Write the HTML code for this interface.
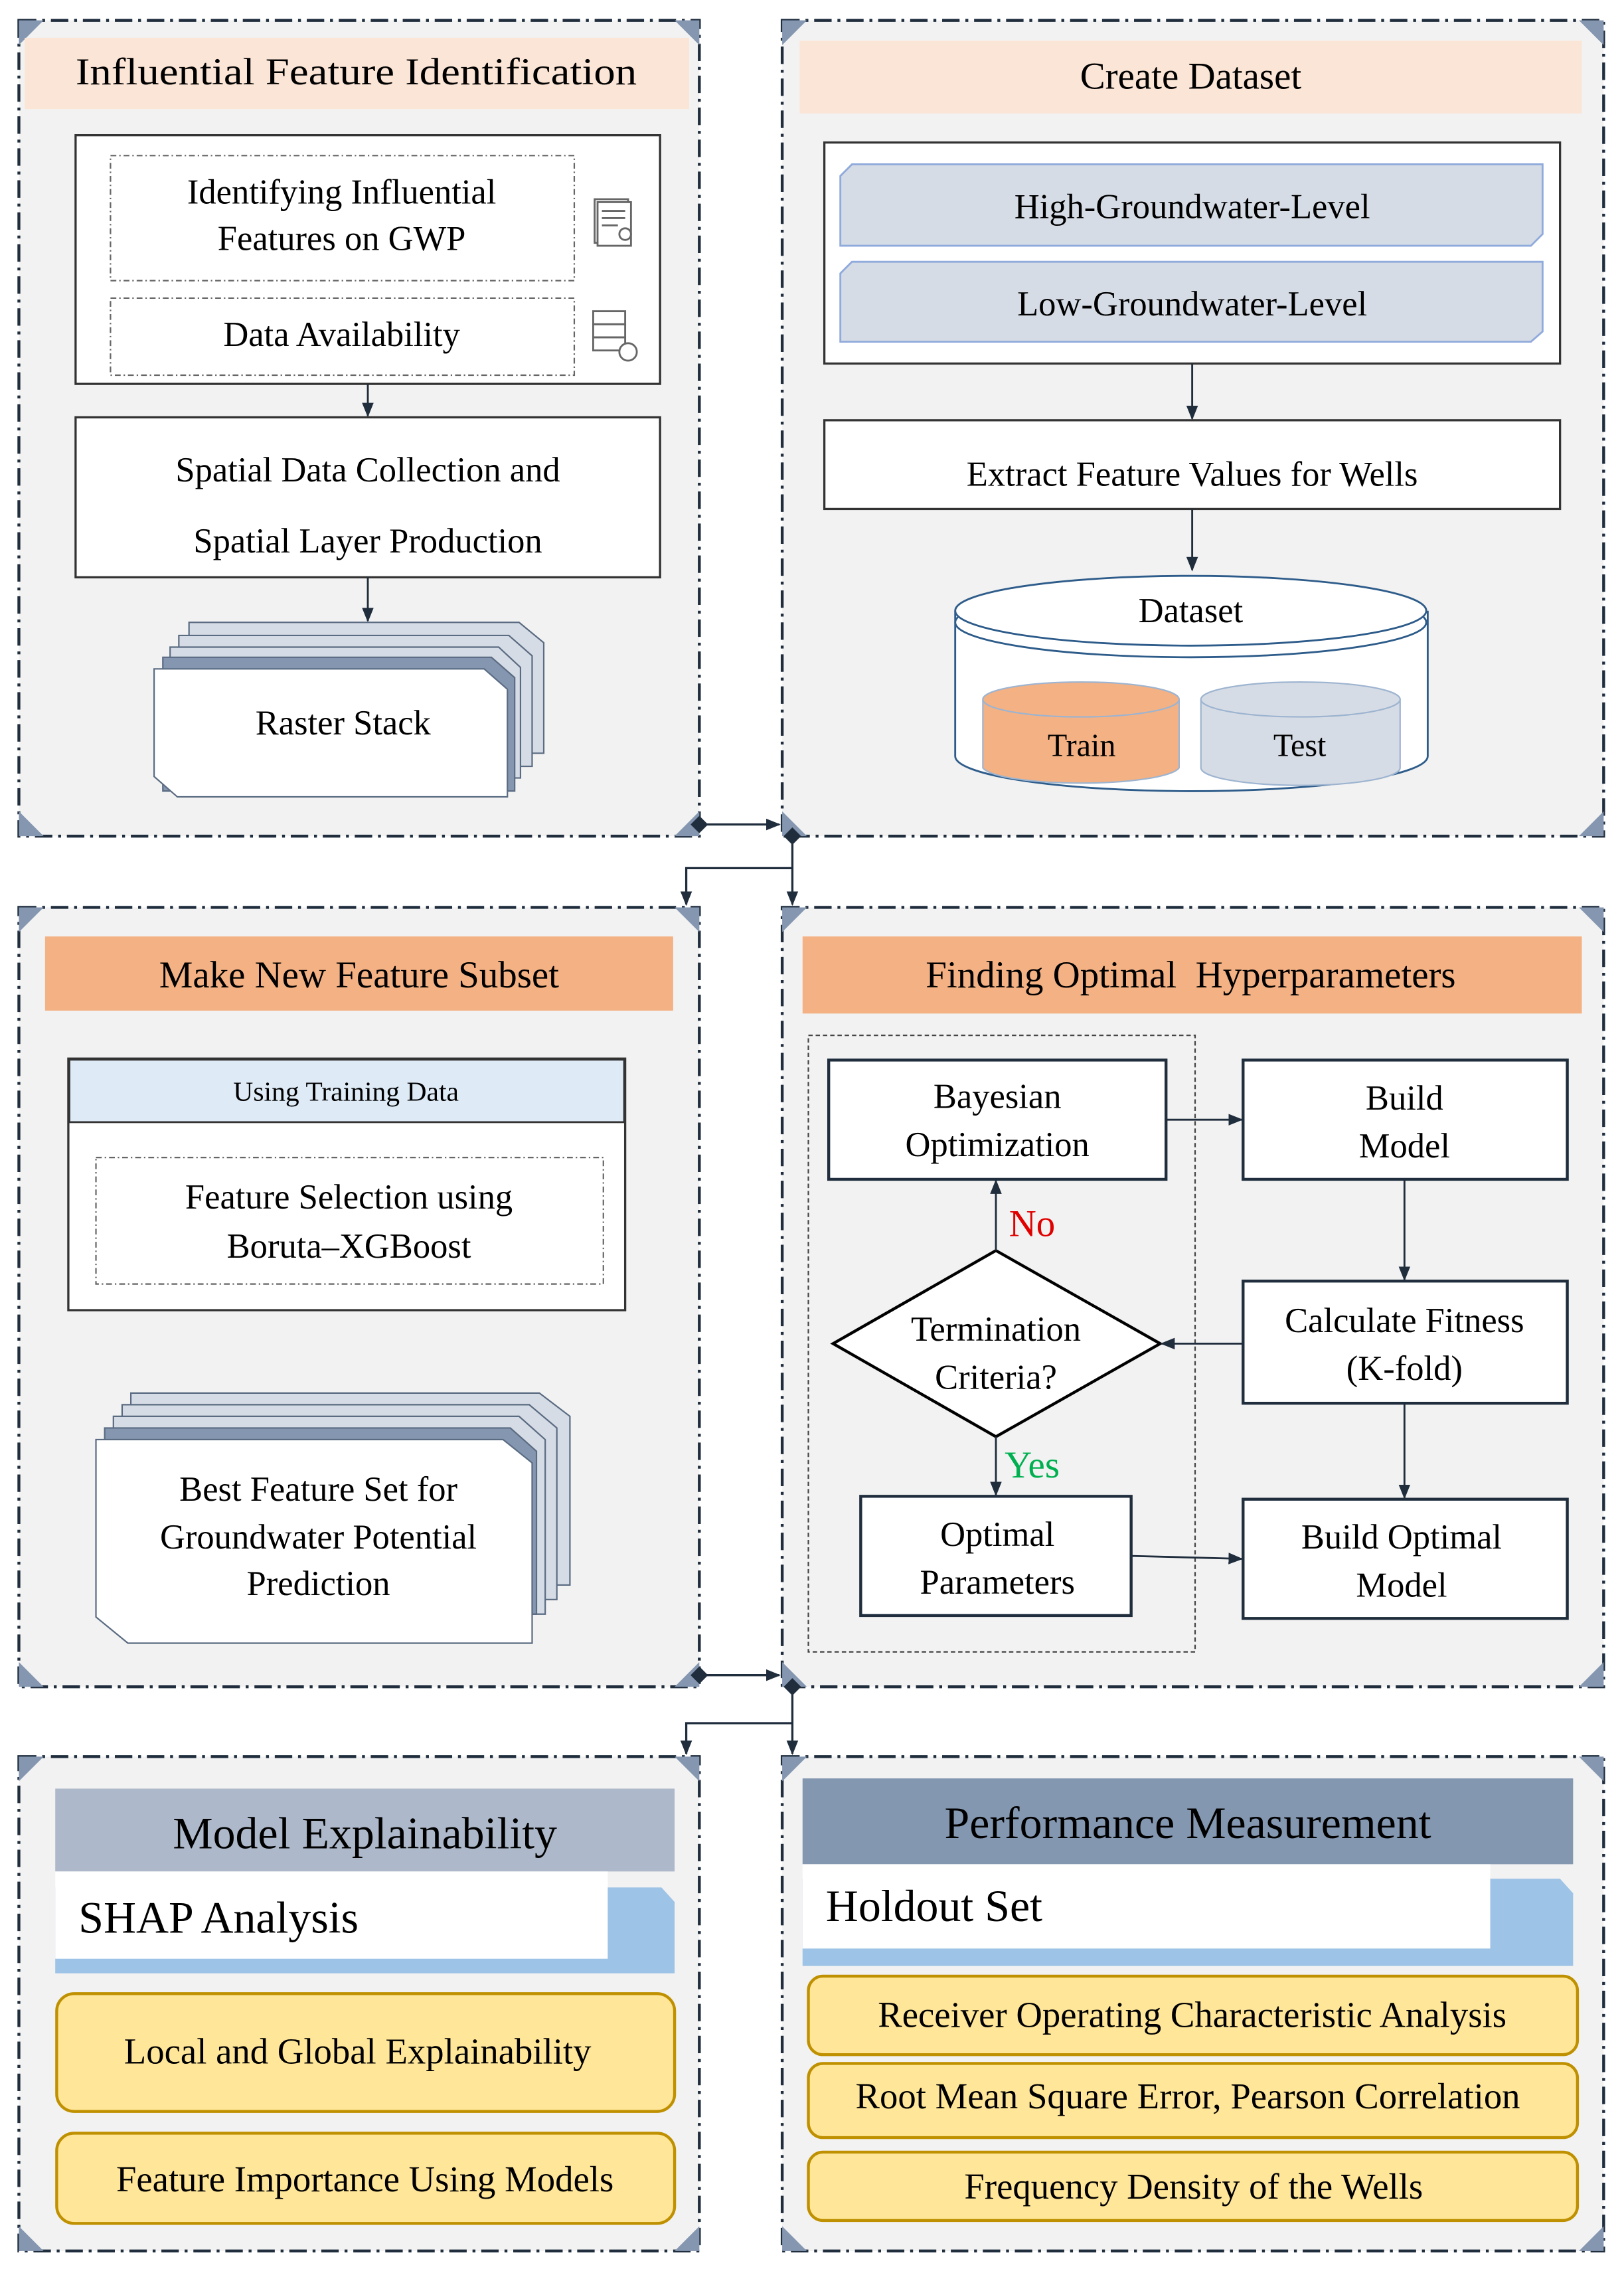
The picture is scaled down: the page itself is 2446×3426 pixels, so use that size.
<!DOCTYPE html>
<html><head><meta charset="utf-8"><style>html,body{margin:0;padding:0;background:#fff}svg{display:block}svg text{font-family:"Liberation Serif","Times New Roman","DejaVu Serif",serif}</style></head><body>
<svg xmlns="http://www.w3.org/2000/svg" width="2446" height="3426" viewBox="0 0 1117 1564.5" preserveAspectRatio="none">
<defs>
<marker id="ah" markerWidth="10" markerHeight="10" refX="9" refY="5" orient="auto" markerUnits="userSpaceOnUse"><path d="M0,1 L10,5 L0,9 z" fill="#1f2d3d"/></marker>
</defs>
<g id="panels" fill="#f2f2f2" stroke="#1f2d3d" stroke-width="2" stroke-dasharray="12,4,2,4">
<rect x="13" y="14" width="468" height="561"/>
<rect x="538" y="14" width="565" height="561"/>
<rect x="13" y="624" width="468" height="536"/>
<rect x="538" y="624" width="565" height="536"/>
<rect x="13" y="1208" width="468" height="340"/>
<rect x="538" y="1208" width="565" height="340"/>
</g>
<g fill="#8496b0">
<path d="M13,14h17l-17,17z M481,14h-17l17,17z M13,575h17l-17,-17z M481,575h-17l17,-17z"/>
<path d="M538,14h17l-17,17z M1103,14h-17l17,17z M538,575h17l-17,-17z M1103,575h-17l17,-17z"/>
<path d="M13,624h17l-17,17z M481,624h-17l17,17z M13,1160h17l-17,-17z M481,1160h-17l17,-17z"/>
<path d="M538,624h17l-17,17z M1103,624h-17l17,17z M538,1160h17l-17,-17z M1103,1160h-17l17,-17z"/>
<path d="M13,1208h17l-17,17z M481,1208h-17l17,17z M13,1548h17l-17,-17z M481,1548h-17l17,-17z"/>
<path d="M538,1208h17l-17,17z M1103,1208h-17l17,17z M538,1548h17l-17,-17z M1103,1548h-17l17,-17z"/>
</g>
<g stroke="#1f2d3d" stroke-width="1.5" fill="none">
<line x1="481" y1="567" x2="536" y2="567" marker-end="url(#ah)"/>
<path d="M545,575 V622" marker-end="url(#ah)"/>
<path d="M545,597 H472 V622" marker-end="url(#ah)"/>
<line x1="481" y1="1152" x2="536" y2="1152" marker-end="url(#ah)"/>
<path d="M545,1160 V1206" marker-end="url(#ah)"/>
<path d="M545,1185 H472 V1206" marker-end="url(#ah)"/>
</g>
<g fill="#1f2d3d">
<path d="M481,561 l6,6 l-6,6 l-6,-6z M545,569 l6,6 l-6,6 l-6,-6z M481,1146 l6,6 l-6,6 l-6,-6z M545,1154 l6,6 l-6,6 l-6,-6z"/>
</g>

<!-- Panel 1 -->
<rect x="17" y="26" width="457" height="49" fill="#fbe5d6"/>
<text x="245" y="58" font-size="26" text-anchor="middle" textLength="386" lengthAdjust="spacingAndGlyphs">Influential Feature Identification</text>
<rect x="52" y="93" width="402" height="171" fill="#fff" stroke="#333" stroke-width="1.5"/>
<g fill="none" stroke="#666" stroke-width="1" stroke-dasharray="4,2,1,2">
<rect x="76" y="107" width="319" height="86"/>
<rect x="76" y="205" width="319" height="53"/>
</g>
<text x="235" y="140" font-size="24" text-anchor="middle">Identifying Influential</text>
<text x="235" y="172" font-size="24" text-anchor="middle">Features on GWP</text>
<text x="235" y="238" font-size="24" text-anchor="middle">Data Availability</text>
<g fill="none" stroke="#666" stroke-width="1.3">
<rect x="409" y="137" width="23" height="30"/><rect x="411" y="139" width="23" height="30" fill="#fff"/>
<line x1="414" y1="145" x2="430" y2="145"/><line x1="414" y1="150" x2="430" y2="150"/><line x1="414" y1="155" x2="425" y2="155"/>
<circle cx="430" cy="161" r="4"/>
<rect x="408" y="214" width="22" height="9"/><rect x="408" y="223" width="22" height="9"/><rect x="408" y="232" width="22" height="9"/>
<circle cx="432" cy="242" r="6" fill="#fff"/>
</g>
<line x1="253" y1="264" x2="253" y2="286" stroke="#1f2d3d" stroke-width="1.3" marker-end="url(#ah)"/>
<rect x="52" y="287" width="402" height="110" fill="#fff" stroke="#333" stroke-width="1.5"/>
<text x="253" y="331" font-size="24" text-anchor="middle">Spatial Data Collection and</text>
<text x="253" y="380" font-size="24" text-anchor="middle">Spatial Layer Production</text>
<line x1="253" y1="397" x2="253" y2="427" stroke="#1f2d3d" stroke-width="1.3" marker-end="url(#ah)"/>
<g stroke="#5a6b82" stroke-width="1">
<path d="M130,428 H357 L374,442 V518 H130z" fill="#d6dce5"/>
<path d="M123,437 H350 L366,451 V527 H123z" fill="#d6dce5"/>
<path d="M117,445 H343 L358,459 V535 H117z" fill="#d6dce5"/>
<path d="M112,452 H338 L354,466 V544 H112z" fill="#8496b0"/>
<path d="M106,460 H333 L349,474 V548 H122 L106,534z" fill="#fff"/>
</g>
<text x="236" y="505" font-size="24" text-anchor="middle">Raster Stack</text>

<!-- Panel 2 -->
<rect x="550" y="28" width="538" height="50" fill="#fbe5d6"/>
<text x="819" y="61" font-size="26" text-anchor="middle">Create Dataset</text>
<rect x="567" y="98" width="506" height="152" fill="#fff" stroke="#333" stroke-width="1.5"/>
<g fill="#d6dce5" stroke="#8faadc" stroke-width="1.3">
<path d="M586,113 H1061 V161 L1053,169 H578 V121z"/>
<path d="M586,180 H1061 V228 L1053,235 H578 V188z"/>
</g>
<text x="820" y="150" font-size="24" text-anchor="middle">High-Groundwater-Level</text>
<text x="820" y="217" font-size="24" text-anchor="middle">Low-Groundwater-Level</text>
<line x1="820" y1="250" x2="820" y2="288" stroke="#1f2d3d" stroke-width="1.3" marker-end="url(#ah)"/>
<rect x="567" y="289" width="506" height="61" fill="#fff" stroke="#333" stroke-width="1.5"/>
<text x="820" y="334" font-size="24" text-anchor="middle">Extract Feature Values for Wells</text>
<line x1="820" y1="350" x2="820" y2="392" stroke="#1f2d3d" stroke-width="1.3" marker-end="url(#ah)"/>
<g stroke="#2e5c8a" stroke-width="1.3">
<path d="M657,420 V520 A162,24 0 0 0 982,520 V420" fill="#fff"/>
<ellipse cx="819" cy="428" rx="162" ry="24" fill="#fff"/>
<ellipse cx="819" cy="420" rx="162" ry="24" fill="#fff"/>
</g>
<text x="819" y="428" font-size="24" text-anchor="middle">Dataset</text>
<g stroke="#9db4d0" stroke-width="1">
<path d="M676,481 V528 A68,12 0 0 0 811,528 V481" fill="#f4b183"/>
<ellipse cx="743.5" cy="481" rx="67.5" ry="12" fill="#f4b183"/>
<path d="M826,481 V528 A68,12 0 0 0 963,528 V481" fill="#d6dce5"/>
<ellipse cx="894.5" cy="481" rx="68.5" ry="12" fill="#d6dce5"/>
</g>
<text x="744" y="520" font-size="22" text-anchor="middle">Train</text>
<text x="894" y="520" font-size="22" text-anchor="middle">Test</text>

<!-- Panel 3 -->
<rect x="31" y="644" width="432" height="51" fill="#f4b183"/>
<text x="247" y="679" font-size="26" text-anchor="middle">Make New Feature Subset</text>
<rect x="47" y="728" width="383" height="173" fill="#fff" stroke="#333" stroke-width="1.5"/>
<rect x="47.7" y="728.7" width="381.6" height="43" fill="#deebf7" stroke="#333" stroke-width="1.3"/>
<text x="238" y="757" font-size="19" text-anchor="middle">Using Training Data</text>
<rect x="66" y="796" width="349" height="87" fill="none" stroke="#666" stroke-width="1" stroke-dasharray="4,2,1,2"/>
<text x="240" y="831" font-size="24" text-anchor="middle">Feature Selection using</text>
<text x="240" y="865" font-size="24" text-anchor="middle">Boruta–XGBoost</text>
<g stroke="#5a6b82" stroke-width="1">
<path d="M90,958 H371 L392,974 V1090 H90z" fill="#d6dce5"/>
<path d="M84,966 H364 L383,982 V1100 H84z" fill="#d6dce5"/>
<path d="M78,974 H357 L375,990 V1110 H78z" fill="#d6dce5"/>
<path d="M72,982 H351 L369,998 V1110 H72z" fill="#8496b0"/>
<path d="M66,990 H346 L366,1006 V1130 H88 L66,1112z" fill="#fff"/>
</g>
<text x="219" y="1032" font-size="24" text-anchor="middle">Best Feature Set for</text>
<text x="219" y="1065" font-size="24" text-anchor="middle">Groundwater Potential</text>
<text x="219" y="1097" font-size="24" text-anchor="middle">Prediction</text>

<!-- Panel 4 -->
<rect x="552" y="644" width="536" height="53" fill="#f4b183"/>
<text x="819" y="679" font-size="26" text-anchor="middle" xml:space="preserve">Finding Optimal  Hyperparameters</text>
<rect x="556" y="712" width="266" height="424" fill="none" stroke="#444" stroke-width="1" stroke-dasharray="3,2"/>
<g fill="#fff" stroke="#1f2d3d" stroke-width="2">
<rect x="570" y="729" width="232" height="82"/>
<rect x="855" y="729" width="223" height="82"/>
<rect x="855" y="881" width="223" height="84"/>
<rect x="855" y="1031" width="223" height="82"/>
<rect x="592" y="1029" width="186" height="82"/>
<path d="M685,860 L798,924 L685,988 L573,924z" stroke="#000"/>
</g>
<g font-size="24" text-anchor="middle">
<text x="686" y="762">Bayesian</text><text x="686" y="795">Optimization</text>
<text x="966" y="763">Build</text><text x="966" y="796">Model</text>
<text x="966" y="916">Calculate Fitness</text><text x="966" y="949">(K-fold)</text>
<text x="964" y="1065">Build Optimal</text><text x="964" y="1098">Model</text>
<text x="686" y="1063">Optimal</text><text x="686" y="1096">Parameters</text>
<text x="685" y="922">Termination</text><text x="685" y="955">Criteria?</text>
</g>
<g stroke="#1f2d3d" stroke-width="1.3" fill="none">
<line x1="802" y1="770" x2="854" y2="770" marker-end="url(#ah)"/>
<line x1="966" y1="811" x2="966" y2="880" marker-end="url(#ah)"/>
<line x1="855" y1="924" x2="799" y2="924" marker-end="url(#ah)"/>
<line x1="966" y1="965" x2="966" y2="1030" marker-end="url(#ah)"/>
<line x1="778" y1="1070" x2="854" y2="1072" marker-end="url(#ah)"/>
<line x1="685" y1="860" x2="685" y2="812" marker-end="url(#ah)"/>
<line x1="685" y1="988" x2="685" y2="1028" marker-end="url(#ah)"/>
</g>
<text x="694" y="850" font-size="26" fill="#e00000">No</text>
<text x="691" y="1016" font-size="26" fill="#00b050">Yes</text>

<!-- Panel 5 -->
<rect x="38" y="1230" width="426" height="57" fill="#adb9ca"/>
<text x="251" y="1271" font-size="31" text-anchor="middle">Model Explainability</text>
<path d="M38,1298 H455 L464,1308 V1357 H38z" fill="#9dc3e6"/>
<rect x="38" y="1287" width="380" height="60" fill="#fff"/>
<text x="54" y="1329" font-size="31">SHAP Analysis</text>
<g fill="#ffe699" stroke="#bf9000" stroke-width="2">
<rect x="39" y="1371" width="425" height="81" rx="12"/>
<rect x="39" y="1467" width="425" height="62" rx="12"/>
</g>
<text x="246" y="1419" font-size="25" text-anchor="middle">Local and Global Explainability</text>
<text x="251" y="1507" font-size="25" text-anchor="middle">Feature Importance Using Models</text>

<!-- Panel 6 -->
<rect x="552" y="1223" width="530" height="59" fill="#8497b0"/>
<text x="817" y="1264" font-size="31" text-anchor="middle">Performance Measurement</text>
<path d="M552,1292 H1073 L1082,1302 V1352 H552z" fill="#9dc3e6"/>
<rect x="552" y="1282" width="473" height="58" fill="#fff"/>
<text x="568" y="1321" font-size="31">Holdout Set</text>
<g fill="#ffe699" stroke="#bf9000" stroke-width="2">
<rect x="556" y="1359" width="529" height="54" rx="10"/>
<rect x="556" y="1419" width="529" height="51" rx="10"/>
<rect x="556" y="1480" width="529" height="47" rx="10"/>
</g>
<text x="820" y="1394" font-size="25" text-anchor="middle">Receiver Operating Characteristic Analysis</text>
<text x="817" y="1450" font-size="25" text-anchor="middle">Root Mean Square Error, Pearson Correlation</text>
<text x="821" y="1512" font-size="25" text-anchor="middle">Frequency Density of the Wells</text>
</svg>
</body></html>
